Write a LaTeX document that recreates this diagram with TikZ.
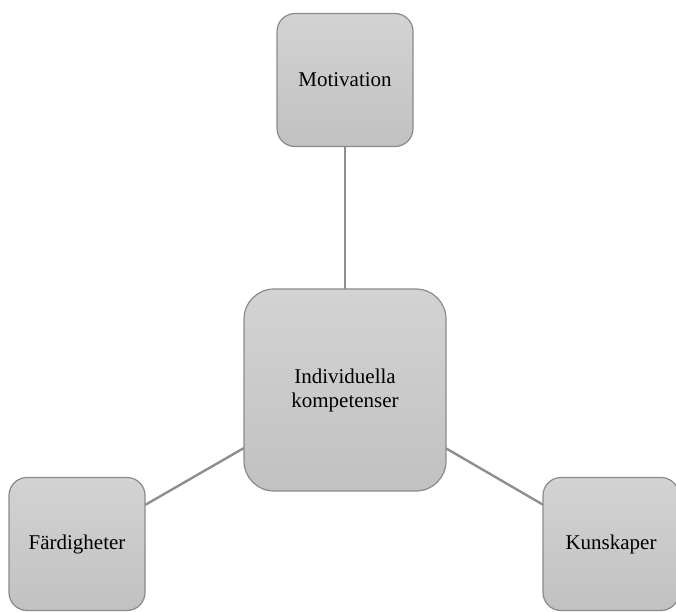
\documentclass[tikz,border=0pt]{standalone}
\usepackage{fontspec}
\setmainfont{Liberation Serif}
\usetikzlibrary{positioning}
\definecolor{boxedge}{HTML}{8A8A8A}
\definecolor{boxtop}{HTML}{D3D3D3}
\definecolor{boxbot}{HTML}{C1C1C1}
\definecolor{linkgray}{HTML}{8E8E8E}

\begin{document}
\begin{tikzpicture}[line cap=round,line join=round,x=1pt,y=1pt,
  box/.style={draw=boxedge,line width=1.2pt,top color=boxtop,bottom color=boxbot,
    rounded corners=18pt,minimum width=136pt,minimum height=133pt,inner sep=0pt,
    align=center,font=\fontsize{21}{24}\selectfont},
  bigbox/.style={box,rounded corners=30pt,minimum width=202pt,minimum height=202pt},
  link/.style={draw=linkgray,line width=2.4pt}]
\useasboundingbox (0,0) rectangle (676,-611);
%
\node[bigbox] (indiv) at (345,-390) {Individuella\\kompetenser};
\node[box] (motiv) at (345,-80) {Motivation};
\node[box] (fard) at (77,-544) {Färdigheter};
\node[box] (kunsk) at (611,-544) {Kunskaper};
%
\draw[link] (indiv) -- (motiv);
\draw[link] (indiv) -- (fard);
\draw[link] (indiv) -- (kunsk);
\end{tikzpicture}
\end{document}
